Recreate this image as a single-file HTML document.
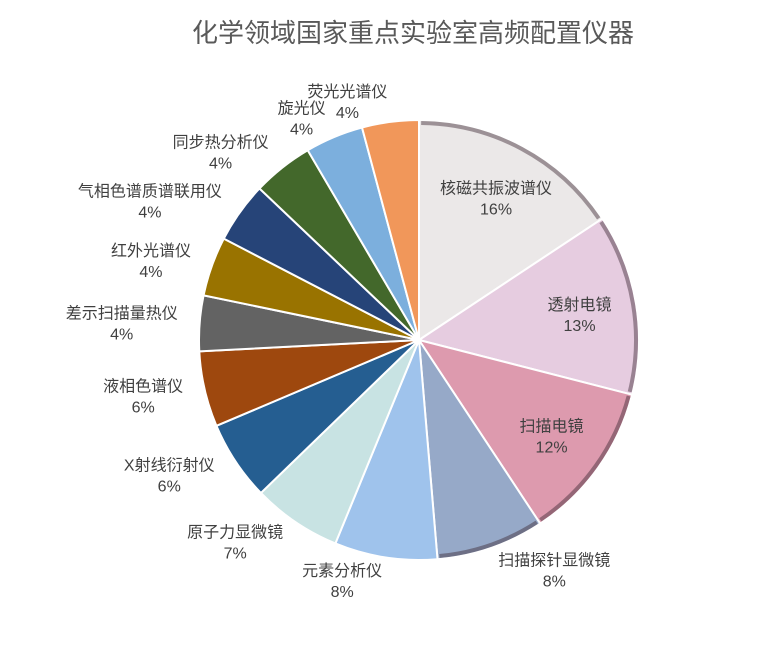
<!DOCTYPE html>
<html><head><meta charset="utf-8"><style>
body{margin:0;background:#fff;width:777px;height:646px;overflow:hidden}
text{font-family:"Liberation Sans","Noto Sans CJK SC",sans-serif}
</style></head><body>
<svg id="chart" width="777" height="646" viewBox="0 0 777 646">
<text x="413" y="42" text-anchor="middle" font-size="26" fill="#595959">化学领域国家重点实验室高频配置仪器</text>
<g id="slices"></g><g id="labels"></g>
</svg>
<script>
const categories=["核磁共振波谱仪","透射电镜","扫描电镜","扫描探针显微镜","元素分析仪","原子力显微镜","X射线衍射仪","液相色谱仪","差示扫描量热仪","红外光谱仪","气相色谱质谱联用仪","同步热分析仪","旋光仪","荧光光谱仪"];
const values=[15.8,13.4,11.8,8.0,7.6,6.6,5.9,5.6,4.1,4.4,4.5,4.5,4.3,4.2];
const colors=["#ebe8e8","#e6cce0","#dd9aae","#96a9c8","#9fc3ec","#c8e3e3","#255e91","#9e480e","#636363","#997300","#264478","#43682b","#7cafdd","#f1975a"];
const cx=419,cy=340,R=220,NS="http://www.w3.org/2000/svg";
const total=values.reduce((a,b)=>a+b,0);
function ang(v){return v/total*2*Math.PI;}
function pt(a,r){return [cx+r*Math.sin(a),cy-r*Math.cos(a)];}
const gS=document.getElementById('slices'),gL=document.getElementById('labels');
let acc=0;
values.forEach((v,i)=>{
  const a0=ang(acc),a1=ang(acc+v);acc+=v;
  const p0=pt(a0,R),p1=pt(a1,R),large=(a1-a0)>Math.PI?1:0;
  const path=document.createElementNS(NS,'path');
  path.setAttribute('d',`M${cx},${cy}L${p0[0]},${p0[1]}A${R},${R} 0 ${large} 1 ${p1[0]},${p1[1]}Z`);
  path.setAttribute('fill',colors[i]);path.setAttribute('stroke','#fff');path.setAttribute('stroke-width','2');
  
  
  gS.appendChild(path);
  if(i<4){
    const q0=pt(a0+0.01,R-3),q1=pt(a1-0.01,R-3);
    const rim=document.createElementNS(NS,'path');
    rim.setAttribute('d',`M${q0[0]},${q0[1]}A${R-3},${R-3} 0 0 1 ${q1[0]},${q1[1]}`);
    rim.setAttribute('fill','none');rim.setAttribute('stroke','rgba(60,40,50,0.45)');rim.setAttribute('stroke-width','4');
    
    
    gS.appendChild(rim);
  }
  const mid=(a0+a1)/2;let x,y;
  if(i<3){[x,y]=pt(mid,R*0.74);}
  else{[x,y]=pt(mid,R+22);const w=categories[i].length*16/2;x+=Math.sin(mid)>0?w:-w;}
  const t=document.createElementNS(NS,'text');
  t.setAttribute('x',x);t.setAttribute('y',y-3);t.setAttribute('text-anchor','middle');
  t.setAttribute('font-size','16');t.setAttribute('fill','#404040');
  
  
  const s1=document.createElementNS(NS,'tspan');s1.setAttribute('x',x);s1.textContent=categories[i];
  const s2=document.createElementNS(NS,'tspan');s2.setAttribute('x',x);s2.setAttribute('dy','21');
  s2.textContent=Math.round(v/total*100)+'%';
  t.appendChild(s1);t.appendChild(s2);gL.appendChild(t);
});
</script>
</body></html>
